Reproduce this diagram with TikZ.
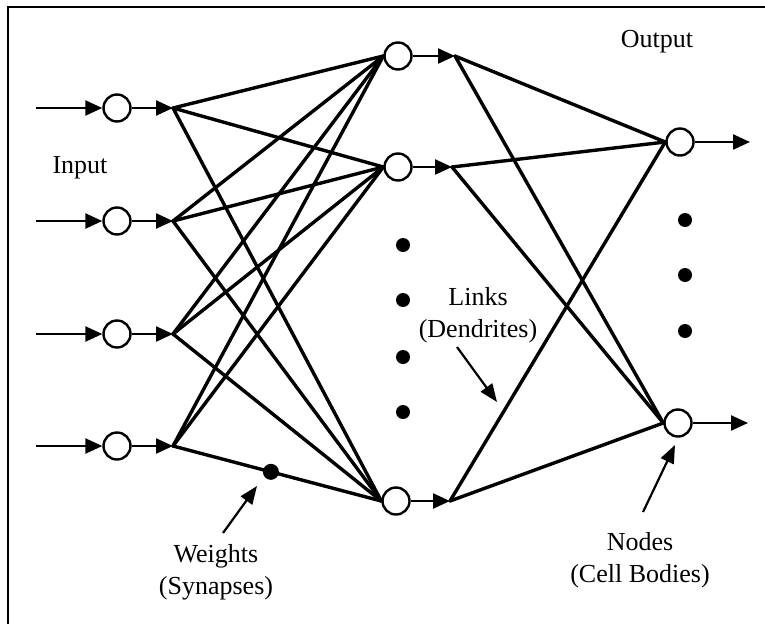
\documentclass[tikz,border=0pt]{standalone}
\usepackage{fontspec}
\setmainfont{Liberation Serif}
\usetikzlibrary{arrows.meta}
\begin{document}
\begin{tikzpicture}[x=1pt,y=-1pt,
  unit/.style={circle,draw,line width=2.4pt,minimum size=27pt,inner sep=0pt,fill=white},
  link/.style={line width=3.4pt,line cap=round},
  feed/.style={line width=2.4pt,-{Triangle[length=17pt,width=15pt]}},
  pointer/.style={line width=2.2pt,-{Triangle[length=18pt,width=14pt]}},
  dotmark/.style={circle,fill=black,inner sep=0pt,minimum size=14pt},
  bigdot/.style={circle,fill=black,inner sep=0pt,minimum size=16pt},
  lbl/.style={font=\fontsize{26}{32}\selectfont,align=center,inner sep=0pt}
]
\fill[white] (0,0) rectangle (765,624);
\useasboundingbox (0,0) rectangle (765,624);

% frame
\draw[line width=2.2pt] (765,7) -- (8,7) -- (8,624);

% input layer
\foreach \k/\y in {1/108,2/221,3/334,4/446}{
  \coordinate (s\k) at (36,\y);
  \node[unit] (i\k) at (117,\y) {};
  \coordinate (f\k) at (173,\y);
  \draw[feed] (s\k) -- (i\k);
  \draw[feed] (i\k) -- (f\k);
}

% hidden layer
\node[unit] (h1) at (398,56) {};
\node[unit] (h2) at (398,167) {};
\node[unit] (h3) at (396,501) {};
\coordinate (g1) at (455,56);
\coordinate (g2) at (452,167);
\coordinate (g3) at (450,501);
\foreach \k in {1,2,3}{ \draw[feed] (h\k) -- (g\k); }

% output layer
\node[unit] (o1) at (680,142) {};
\node[unit] (o2) at (678,423) {};
\coordinate (e1) at (750,142);
\coordinate (e2) at (748,423);
\draw[feed] (o1) -- (e1);
\draw[feed] (o2) -- (e2);

% links input -> hidden
\foreach \a in {1,2,3}{
  \foreach \b in {1,2,3}{ \draw[link] (f\a) -- (h\b.west); }
}
\draw[link] (f4) -- (h1.west);
\draw[link] (f4) -- (h2.west);
\draw[link] (f4) -- node[bigdot,pos=0.47] (w) {} (h3.west);

% links hidden -> output
\foreach \a in {1,2,3}{
  \foreach \b in {1,2}{ \draw[link] (g\a) -- (o\b.west); }
}

% ellipsis dots
\foreach \k/\y in {1/245,2/300,3/357,4/412}{ \node[dotmark] (hd\k) at (403,\y) {}; }
\foreach \k/\y in {1/220,2/275,3/331}{ \node[dotmark] (od\k) at (685,\y) {}; }

% labels (base anchor sits on the last line)
\node[lbl,anchor=base] (tin) at (80,173) {Input};
\node[lbl,anchor=base] (tout) at (657,47) {Output};
\node[lbl,anchor=base] (tlink) at (478,337) {Links\\(Dendrites)};
\node[lbl,anchor=base] (tw) at (216,594) {Weights\\(Synapses)};
\node[lbl,anchor=base] (tn) at (640,582) {Nodes\\(Cell Bodies)};

% pointers
\coordinate (pw0) at (223,533); \coordinate (pw1) at (257,486);
\coordinate (pl0) at (457,347); \coordinate (pl1) at (497,402);
\coordinate (pn0) at (643,512); \coordinate (pn1) at (675,445);
\draw[pointer] (pw0) -- (pw1);
\draw[pointer] (pl0) -- (pl1);
\draw[pointer] (pn0) -- (pn1);
\end{tikzpicture}
\end{document}
